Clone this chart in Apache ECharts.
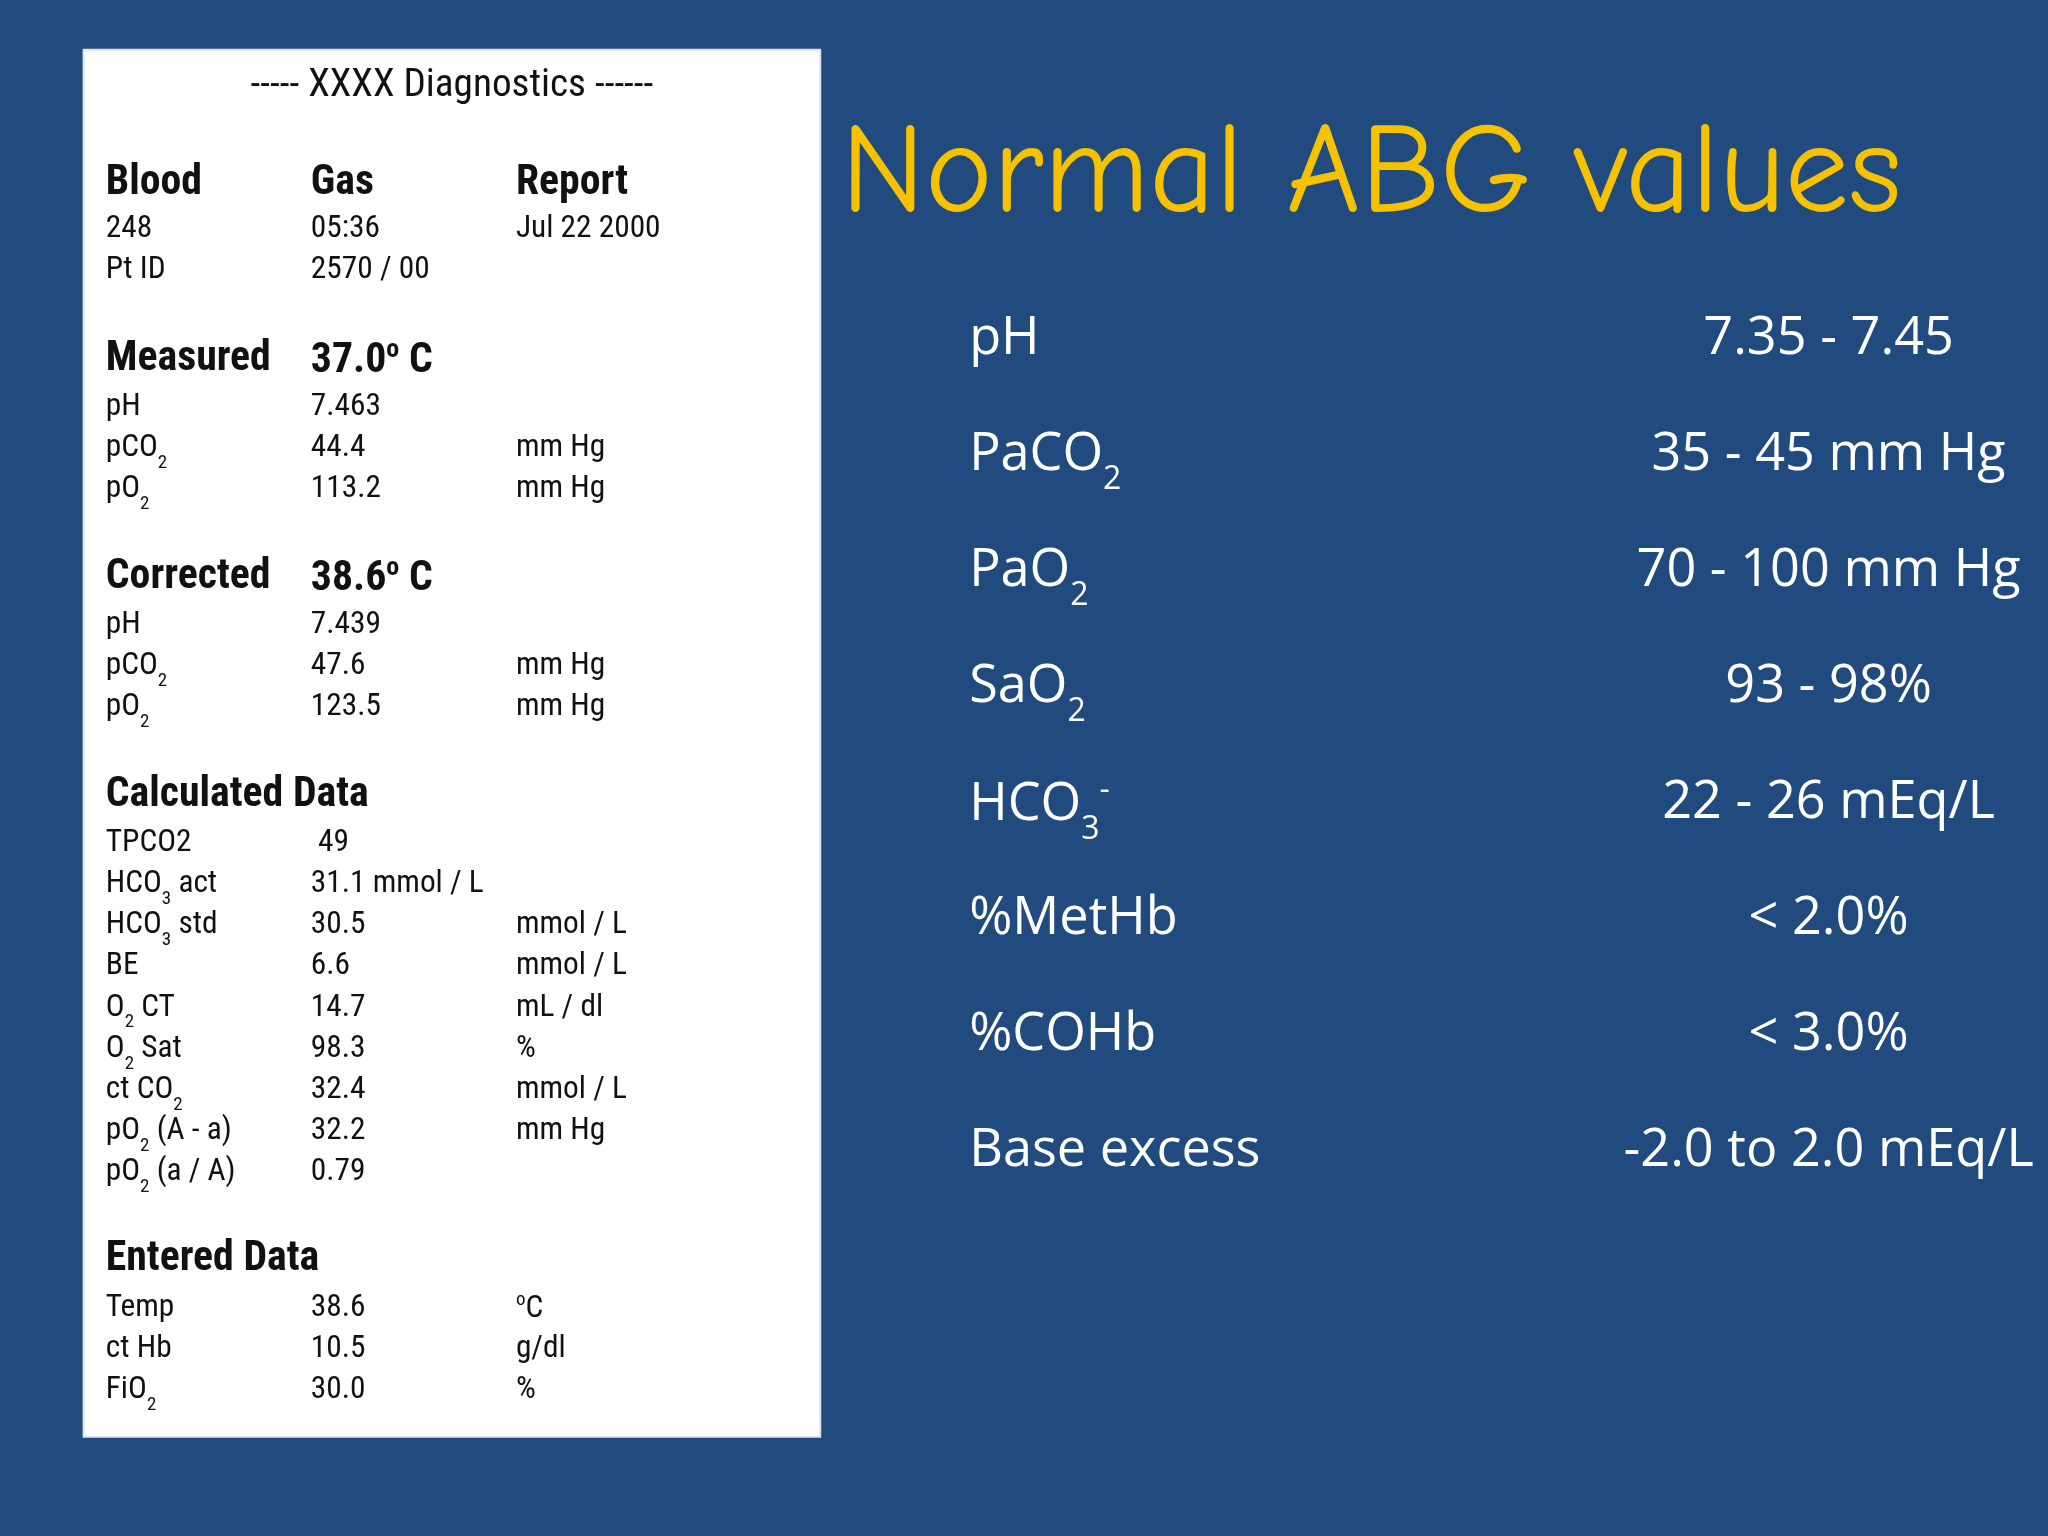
<!DOCTYPE html>
<html><head><meta charset="utf-8">
<script src="https://cdn.jsdelivr.net/npm/echarts@6/dist/echarts.min.js"></script>
<style>html,body{margin:0;padding:0;background:#214a7e}#c{width:2048px;height:1536px}</style>
</head><body><div id="c"></div>
<script>
// ---- data ----
const title = 'Normal ABG values';
const normalLabels = ['pH','PaCO_2','PaO_2','SaO_2','HCO_3^-','%MetHb','%COHb','Base excess'];
const normalValues = ['7.35 - 7.45','35 - 45 mm Hg','70 - 100 mm Hg','93 - 98%','22 - 26 mEq/L','< 2.0%','< 3.0%','-2.0 to 2.0 mEq/L'];
const reportTitle = '----- XXXX Diagnostics ------';
const sectionBlood = [['Blood','Gas','Report'],['248','05:36','Jul 22 2000'],['Pt ID','2570 / 00','']];
const sectionMeasured = [['Measured','37.0^o C',''],['pH','7.463',''],['pCO_2','44.4','mm Hg'],['pO_2','113.2','mm Hg']];
const sectionCorrected = [['Corrected','38.6^o C',''],['pH','7.439',''],['pCO_2','47.6','mm Hg'],['pO_2','123.5','mm Hg']];
const sectionCalculated = [['Calculated Data','',''],['TPCO2',' 49',''],['HCO_3 act','31.1 mmol / L',''],['HCO_3 std','30.5','mmol / L'],['BE','6.6','mmol / L'],['O_2 CT','14.7','mL / dl'],['O_2 Sat','98.3','%'],['ct CO_2','32.4','mmol / L'],['pO_2 (A - a)','32.2','mm Hg'],['pO_2 (a / A)','0.79','']];
const sectionEntered = [['Entered Data','',''],['Temp','38.6','^oC'],['ct Hb','10.5','g/dl'],['FiO_2','30.0','%']];

// ---- layout ----
const k = 2048/1568;
const S = v => v*k;
function rich(str){
  // convert _x to subscript, ^x to superscript
  let out='';
  for(let i=0;i<str.length;i++){
    const c=str[i];
    if((c==='_'||c==='^') && i+1<str.length){
      out += (c==='_'?'{sub|':'{sup|')+str[i+1]+'}';i++;
    } else {
      let j=i; while(j<str.length && str[j]!=='_' && str[j]!=='^') j++;
      out += '{n|'+str.slice(i,j)+'}'; i=j-1;
    }
  }
  return out;
}
function richStyles(fs,color,font,weight){
  const sub=Math.round(fs*0.62);
  return {
    n:{fontSize:fs,fontFamily:font,fontWeight:weight,fill:color,padding:[0,0,Math.round(fs*0.28),0],verticalAlign:'bottom'},
    sub:{fontSize:sub,fontFamily:font,fontWeight:weight,fill:color,verticalAlign:'bottom'},
    sup:{fontSize:sub,fontFamily:font,fontWeight:weight,fill:color,padding:[0,0,Math.round(fs*0.75),0],verticalAlign:'bottom'}
  };
}
const els=[];
function txt(x,y,s,fs,color,font,weight,align){
  els.push({type:'text',x:S(x),y:S(y),style:{text:rich(s),rich:richStyles(S(fs),color,font,weight||'normal'),align:align||'left',verticalAlign:'middle'}});
}
// white panel
els.push({type:'rect',shape:{x:S(64),y:S(38),width:S(564),height:S(1062)},style:{fill:'#ffffff',stroke:'#dfe3ea',lineWidth:2}});
const NF='"Liberation Sans Narrow","Arial Narrow","Roboto Condensed",Roboto,sans-serif';
txt(346,70,reportTitle,30,'#111',NF,'normal','center');
const colX=[81,238,395];
function section(rows,y0,hdrSize,gapHdr,gap){
  rows.forEach((r,i)=>{
    const y = i===0?y0:y0+gapHdr+(i-1)*gap;
    r.forEach((c,j)=>{ if(c) txt(colX[j],y,c,i===0?hdrSize:24,'#111',NF,i===0?'bold':'normal'); });
  });
}
section(sectionBlood,145,32,34,31.5);
section(sectionMeasured,280,32,35,31.5);
section(sectionCorrected,447,32,35,31.5);
section(sectionCalculated,614,32,35,31.5);
section(sectionEntered,969,32,36,31.5);
// title
txt(1050,148,title,98,'#f6c200','"Comic Neue","Comic Sans MS","Lato",sans-serif','normal','center');
// normal values
const W='"Open Sans","Noto Sans",sans-serif';
normalLabels.forEach((l,i)=>{
  const y=265+i*88.9;
  txt(742,y,l,40,'#ffffff',W,'normal','left');
  txt(1400,y,normalValues[i],40,'#ffffff',W,'normal','center');
});
const chart=echarts.init(document.getElementById('c'));
chart.setOption({backgroundColor:'#214a7e',graphic:{elements:els}});
</script></body></html>
